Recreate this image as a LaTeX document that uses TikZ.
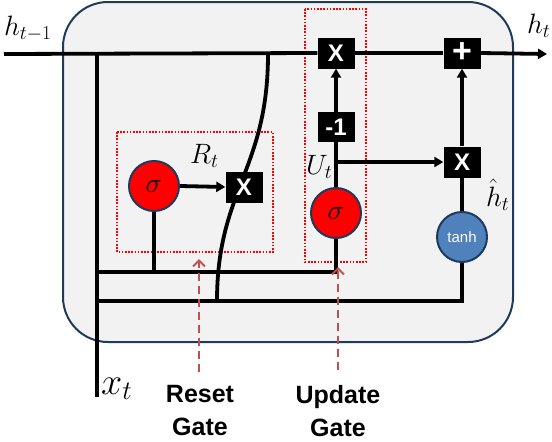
\RequirePackage{fix-cm}
\documentclass[tikz,border=0pt]{standalone}
\usepackage{fontspec}
\setsansfont{Liberation Sans}
\usetikzlibrary{arrows.meta}
\definecolor{cellfill}{HTML}{F2F2F2}
\definecolor{cellborder}{HTML}{1F3A5A}
\definecolor{sigred}{HTML}{FF0000}
\definecolor{tanhblue}{HTML}{4F81BD}
\definecolor{gatered}{HTML}{C0504D}
\begin{document}
\begin{tikzpicture}[x=1pt,y=-1pt,
  wire/.style={line width=3.8pt},
  arr/.style={wire,-{Triangle[length=9pt,width=10pt]}},
  opbox/.style={fill=black,text=white,font=\sffamily\bfseries\fontsize{24}{24}\selectfont,minimum width=37pt,minimum height=31pt,inner sep=0pt},
  sig/.style={circle,fill=sigred,draw=cellborder,line width=2pt,minimum size=50pt,inner sep=0pt,font=\fontsize{28}{28}\selectfont},
  tanhnode/.style={circle,fill=tanhblue,draw=cellborder,line width=2pt,minimum size=50pt,inner sep=0pt,text=white,font=\sffamily\fontsize{15}{15}\selectfont},
  gatebox/.style={draw=red,line width=1.6pt,dash pattern=on 1.6pt off 1.6pt},
  gatearrow/.style={draw=gatered,line width=2pt,dash pattern=on 8pt off 5pt,-{Straight Barb[length=6pt,width=12pt]}},
  mathlbl/.style={anchor=base west,inner sep=0pt,font=\fontsize{28}{28}\selectfont},
  gatelbl/.style={align=center,font=\sffamily\bfseries\fontsize{25}{33}\selectfont,inner sep=0pt}
]
\useasboundingbox (0,0) rectangle (552,442);
% cell
\draw[fill=cellfill,draw=cellborder,line width=2pt,rounded corners=45pt] (63,2) rectangle (513,342);
% gate frames
\draw[gatebox] (117,132) rectangle (273,252);
\draw[gatebox] (305,9) rectangle (366,262);
% coordinates
\coordinate (hin) at (4,54);
\coordinate (hout) at (547,54);
\coordinate (xtop) at (97,54);
\coordinate (xbot) at (97,397);
\coordinate (l1a) at (97,272);
\coordinate (l1b) at (336,272);
\coordinate (l2a) at (97,301);
\coordinate (l2b) at (462,301);
\coordinate (rj) at (154,272);
\coordinate (ctop) at (268,54);
\coordinate (cbot) at (217,301);
\coordinate (ub) at (336,162);
% curved reset path (behind the box)
\draw[wire] (ctop) .. controls (268,170) and (217,190) .. (cbot);
% nodes
\node[sig] (Rs) at (154,186) {$\sigma$};
\node[opbox] (Rx) at (244,187) {X};
\node[sig] (Us) at (336,213) {$\sigma$};
\node[tanhnode] (tanh) at (462,237) {tanh};
% wires
\draw[wire] (xtop) -- (xbot);
\draw[wire] (l1a) -- (l1b) -- (Us.south);
\draw[wire] (l2a) -- (l2b) -- (tanh.south);
\draw[wire] (Rs.south) -- (rj);
\draw[arr] (Rs.east) -- (Rx.west);
\node[opbox] (Ux) at (336,53) {X};
\node[opbox,minimum height=30pt] (neg) at (336,127) {-1};
\node[opbox,font=\sffamily\bfseries\fontsize{34}{34}\selectfont] (plus) at (462,53) {+};
\node[opbox] (Hx) at (462,162) {X};
\draw[wire] (hin) -- (Ux.west);
\draw[wire] (Ux.east) -- (plus.west);
\draw[wire] (Us.north) -- (neg.south);
\draw[arr] (neg.north) -- (Ux.south);
\draw[arr] (ub) -- (Hx.west);
\draw[wire] (tanh.north) -- (Hx.south);
\draw[arr] (Hx.north) -- (plus.south);
\draw[arr] (plus.east) -- (hout);
% labels
\node[mathlbl] (lh1) at (4,35) {$h_{t-1}$};
\node[mathlbl] (lh) at (527,33) {$h_t$};
\node[mathlbl] (lR) at (190,163) {$R_t$};
\node[mathlbl] (lU) at (306,174) {$U_t$};
\node[mathlbl] (lhh) at (486,206) {$\hat{h}_t$};
\node[mathlbl,font=\fontsize{38}{38}\selectfont] (lx) at (101,394) {$x_t$};
% gate labels
\coordinate (ra0) at (199,372);
\coordinate (ra1) at (199,259);
\coordinate (ua0) at (338,370);
\coordinate (ua1) at (338,267);
\draw[gatearrow] (ra0) -- (ra1);
\draw[gatearrow] (ua0) -- (ua1);
\node[gatelbl] (rg) at (200,411) {Reset\\Gate};
\node[gatelbl] (ug) at (338,411) {Update\\Gate};
\end{tikzpicture}
\end{document}
